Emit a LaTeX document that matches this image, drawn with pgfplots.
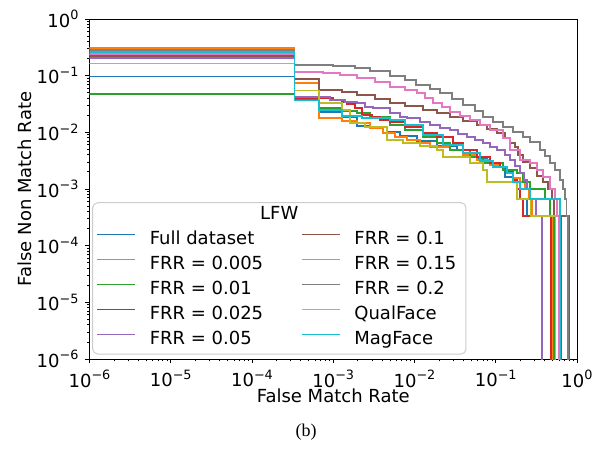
\documentclass[border=0pt]{standalone}
\usepackage{fontspec}
\setmainfont{DejaVu Sans}
\newfontfamily\capfont{Liberation Serif}
\usepackage{pgfplots}
\pgfplotsset{compat=1.18}

\definecolor{c0}{HTML}{1F77B4}
\definecolor{c1}{HTML}{FF7F0E}
\definecolor{c2}{HTML}{2CA02C}
\definecolor{c3}{HTML}{D62728}
\definecolor{c4}{HTML}{9467BD}
\definecolor{c5}{HTML}{8C564B}
\definecolor{c6}{HTML}{E377C2}
\definecolor{c7}{HTML}{7F7F7F}
\definecolor{c8}{HTML}{BCBD22}
\definecolor{c9}{HTML}{17BECF}

\newcommand{\fs}{\fontsize{9}{11}\selectfont}
\newcommand{\sups}[1]{\raisebox{0.42em}{\fontsize{6.4}{7}\selectfont #1}}
\newcommand{\dec}[1]{10\sups{#1}}

\begin{document}
\begin{tikzpicture}
\useasboundingbox (-44.75pt,-45.5pt) rectangle (256.75pt,179.5pt);
\begin{axis}[
    at={(0pt,0pt)}, anchor=south west,
    scale only axis, width=243.75pt, height=170pt,
    xmode=log, ymode=log,
    xmin=1e-6, xmax=1, ymin=1e-6, ymax=1,
    xtick={1e-6,1e-5,1e-4,1e-3,1e-2,1e-1,1},
    ytick={1e-6,1e-5,1e-4,1e-3,1e-2,1e-1,1},
    xticklabels={\dec{−6},\dec{−5},\dec{−4},\dec{−3},\dec{−2},\dec{−1},\dec{0}},
    yticklabels={\dec{−6},\dec{−5},\dec{−4},\dec{−3},\dec{−2},\dec{−1},\dec{0}},
    tick label style={font=\fs},
    xtick pos=bottom, ytick pos=left,
    tick align=outside,
    major tick length=2pt, minor tick length=1.2pt,
    every tick/.style={black, line width=0.45pt},
    axis line style={line width=0.5pt},
    xlabel={False Match Rate}, ylabel={False Non Match Rate},
    label style={font=\fs},
    xlabel style={at={(axis description cs:0.5,-0.109)}, anchor=center},
    ylabel style={at={(axis description cs:-0.132,0.5)}, anchor=center},
    every axis plot/.append style={line width=0.65pt, const plot},
    legend columns=2,
    legend cell align=left,
    legend style={at={(axis description cs:0.0133,0.3765)}, anchor=north west,
        draw=none, fill=none, inner sep=0pt, row sep=3.9pt, font=\fs,
        nodes={inner sep=0pt, text height=6.6pt, text depth=2pt, anchor=west},
        /tikz/every odd column/.append style={column sep=7pt},
        /tikz/every even column/.append style={column sep=18.9pt}},
    legend image code/.code={\draw[#1, line width=0.7pt] (0pt,2.65pt) -- (19pt,2.65pt);},
]
% Full dataset
\addplot[c0, forget plot] coordinates {(1e-7,0.0975) (3.333e-4,0.0372) (6.667e-4,0.0229) (1.28e-3,0.0187) (1.96e-3,0.0129) (2.83e-3,0.0124) (4.59e-3,0.0101) (6.63e-3,0.00861) (0.0107,0.00704) (0.0189,0.00574) (0.0334,0.00488) (0.0588,0.00352) (0.078,0.00288) (0.123,0.00244) (0.130,0.00163) (0.163,0.001333) (0.183,6.667e-4) (0.243,3.333e-4) (0.645,1e-8)};
% FRR = 0.005
\addplot[c1, forget plot] coordinates {(1e-7,0.308) (3.333e-4,0.0743) (6.667e-4,0.0179) (1.28e-3,0.0159) (1.96e-3,0.0146) (2.83e-3,0.0119) (4.09e-3,0.00973) (5.75e-3,0.00828) (8.09e-3,0.00733) (0.0117,0.00649) (0.0155,0.00551) (0.0274,0.00488) (0.0395,0.00398) (0.0588,0.00325) (0.085,0.00265) (0.113,0.00244) (0.137,0.002) (0.163,0.00156) (0.199,0.001333) (0.229,0.001) (0.257,6.667e-4) (0.279,3.333e-4) (0.492,1e-8)};
% FRR = 0.01
\addplot[c2, forget plot] coordinates {(1e-7,0.0475) (3.333e-4,0.0388) (6.667e-4,0.0269) (1.28e-3,0.0238) (1.96e-3,0.0219) (2.83e-3,0.0187) (4.99e-3,0.0135) (7.64e-3,0.011) (0.0127,0.00828) (0.0189,0.00649) (0.0274,0.00488) (0.0482,0.00367) (0.0697,0.00288) (0.123,0.00216) (0.183,0.00192) (0.216,0.001333) (0.264,0.001) (0.404,6.667e-4) (0.465,3.333e-4) (0.52,1e-8)};
% FRR = 0.025
\addplot[c3, forget plot] coordinates {(1e-7,0.232) (3.333e-4,0.0404) (9.93e-4,0.0372) (1.28e-3,0.0343) (1.48e-3,0.0316) (1.85e-3,0.0269) (2.26e-3,0.0202) (3.0e-3,0.0187) (3.76e-3,0.0165) (4.99e-3,0.0152) (7.64e-3,0.0124) (0.0127,0.00973) (0.0189,0.00828) (0.0298,0.00649) (0.0395,0.00488) (0.0588,0.00367) (0.085,0.00288) (0.113,0.00244) (0.137,0.002) (0.163,0.00144) (0.183,0.001) (0.199,6.667e-4) (0.216,3.333e-4) (0.479,1e-8)};
% FRR = 0.05
\addplot[c4, forget plot] coordinates {(1e-7,0.205) (3.333e-4,0.0421) (9.12e-4,0.0372) (1.40e-3,0.0343) (1.96e-3,0.033) (2.46e-3,0.028) (3.08e-3,0.0269) (4.99e-3,0.0219) (6.63e-3,0.0187) (8.09e-3,0.0179) (0.0117,0.0152) (0.0155,0.0135) (0.0206,0.0119) (0.0274,0.011) (0.0343,0.00935) (0.0443,0.00828) (0.0556,0.00733) (0.0697,0.00649) (0.085,0.00551) (0.104,0.00488) (0.130,0.00398) (0.150,0.00325) (0.172,0.00255) (0.199,0.00192) (0.223,0.00144) (0.243,0.001) (0.264,6.667e-4) (0.313,3.333e-4) (0.37,1e-8)};
% FRR = 0.1
\addplot[c5, forget plot] coordinates {(1e-7,0.222) (3.333e-4,0.0874) (6.667e-4,0.0559) (1.28e-3,0.0515) (1.96e-3,0.0456) (3.27e-3,0.0388) (4.99e-3,0.033) (7.64e-3,0.0292) (0.0127,0.0248) (0.0189,0.0219) (0.0274,0.0187) (0.0395,0.0159) (0.0588,0.0135) (0.078,0.0115) (0.104,0.00973) (0.130,0.00794) (0.150,0.00649) (0.172,0.00551) (0.188,0.00398) (0.216,0.003) (0.264,0.00235) (0.322,0.0017) (0.382,0.001333) (0.44,0.001) (0.492,6.667e-4) (0.521,3.333e-4) (0.80,1e-8)};
% FRR = 0.15
\addplot[c6, forget plot] coordinates {(1e-7,0.241) (3.333e-4,0.116) (7.48e-4,0.111) (1.21e-3,0.103) (1.96e-3,0.091) (3.27e-3,0.0773) (4.99e-3,0.0631) (7.64e-3,0.0559) (0.0107,0.0494) (0.0135,0.0404) (0.0169,0.033) (0.0218,0.028) (0.0274,0.0229) (0.0363,0.0194) (0.0482,0.0165) (0.064,0.0135) (0.085,0.011) (0.123,0.00794) (0.150,0.00488) (0.199,0.00325) (0.264,0.00288) (0.322,0.00216) (0.382,0.00163) (0.465,0.001) (0.536,6.667e-4) (0.568,3.333e-4) (0.60,1e-8)};
% FRR = 0.2
\addplot[c7, forget plot] coordinates {(1e-7,0.284) (3.333e-4,0.154) (9.93e-4,0.148) (1.85e-3,0.137) (2.83e-3,0.121) (4.99e-3,0.0987) (7.64e-3,0.0839) (0.0104,0.0685) (0.0155,0.0582) (0.0206,0.0494) (0.029,0.0388) (0.0395,0.0304) (0.0556,0.0238) (0.0697,0.0187) (0.0925,0.0152) (0.123,0.0124) (0.163,0.0101) (0.216,0.00828) (0.264,0.00676) (0.351,0.00488) (0.404,0.00382) (0.465,0.00288) (0.536,0.00216) (0.618,0.00144) (0.673,0.001) (0.712,6.667e-4) (0.747,3.333e-4) (0.775,1e-8)};
% QualFace
\addplot[c8, forget plot] coordinates {(1e-7,0.165) (3.333e-4,0.0543) (6.667e-4,0.033) (1.28e-3,0.0248) (1.61e-3,0.0146) (2.46e-3,0.0124) (4.59e-3,0.00733) (7.22e-3,0.00649) (0.0117,0.00574) (0.0189,0.00488) (0.0224,0.00367) (0.0482,0.00288) (0.0697,0.00216) (0.078,0.001333) (0.183,6.667e-4) (0.27,3.333e-4) (0.54,1e-8)};
% MagFace
\addplot[c9, forget plot] coordinates {(1e-7,0.262) (3.333e-4,0.0362) (6.667e-4,0.0248) (1.28e-3,0.0194) (2.26e-3,0.0179) (4.99e-3,0.0165) (7.64e-3,0.0135) (0.0127,0.00897) (0.0224,0.00598) (0.0395,0.00432) (0.064,0.00312) (0.0925,0.00244) (0.137,0.00192) (0.163,0.001333) (0.199,0.001) (0.264,6.667e-4) (0.618,3.333e-4) (0.63,1e-8)};

\draw[black!20, fill=white, fill opacity=0.8, line width=0.5pt, rounded corners=2.5pt]
    (axis description cs:0.00656,0.0147) rectangle (axis description cs:0.7723,0.4597);
\node[font=\fs] at (axis description cs:0.3893,0.4285) {LFW};

\addlegendimage{c0}\addlegendentry{Full dataset}
\addlegendimage{c5}\addlegendentry{FRR = 0.1}
\addlegendimage{c1}\addlegendentry{FRR = 0.005}
\addlegendimage{c6}\addlegendentry{FRR = 0.15}
\addlegendimage{c2}\addlegendentry{FRR = 0.01}
\addlegendimage{c7}\addlegendentry{FRR = 0.2}
\addlegendimage{c3}\addlegendentry{FRR = 0.025}
\addlegendimage{c8}\addlegendentry{QualFace}
\addlegendimage{c4}\addlegendentry{FRR = 0.05}
\addlegendimage{c9}\addlegendentry{MagFace}
\end{axis}
\node[font=\capfont\fs] at (108.25pt,-36.5pt) {(b)};
\end{tikzpicture}
\end{document}
